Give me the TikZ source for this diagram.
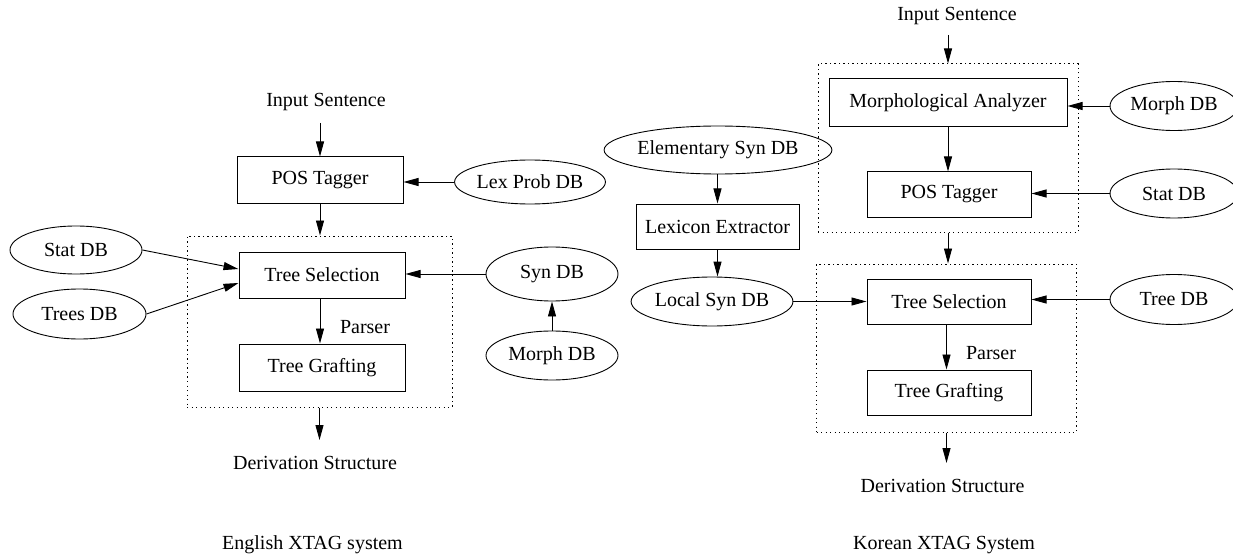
\documentclass[tikz,border=0pt]{standalone}
\usepackage{fontspec}
\setmainfont{Liberation Serif}
\newfontfamily\diagfont{Liberation Serif}
\usetikzlibrary{arrows.meta,shapes.geometric}
\begin{document}
\begin{tikzpicture}[x=1pt,y=-1pt,
  every node/.style={font=\diagfont\fontsize{20}{24}\selectfont},
  proc/.style={draw,line width=1pt,rectangle,inner sep=0pt},
  db/.style={draw,line width=0.9pt,ellipse,inner sep=0pt},
  lbl/.style={inner sep=0pt},
  group/.style={draw,dash pattern=on 1.2pt off 3.3pt,line width=1pt,rectangle,inner sep=0pt},
  arr/.style={-{Triangle[length=15pt,width=8pt]},line width=0.9pt}]
\useasboundingbox (0,0) rectangle (1233,556);

% ---------- English XTAG system ----------
\node[group,minimum width=265pt,minimum height=171pt] (box1) at (319.5,321.5) {};
\node[lbl] (in1) at (326,102) {Input Sentence};
\node[proc,minimum width=166pt,minimum height=46pt] (pos1) at (320,180) {POS Tagger};
\node[proc,minimum width=166pt,minimum height=46pt] (tsel1) at (322,275) {Tree Selection};
\node[proc,minimum width=166pt,minimum height=47pt] (tgraft1) at (322,367.5) {Tree Grafting};
\node[lbl] (parser1) at (365,327) {Parser};
\node[lbl] (der1) at (315,463) {Derivation Structure};
\node[lbl] (title1) at (312.5,545) {English XTAG system};
\node[db,minimum width=132pt,minimum height=48pt] (stat1) at (76,250) {Stat DB};
\node[db,minimum width=133pt,minimum height=50pt] (trees1) at (79.5,314) {Trees DB};
\node[db,minimum width=133pt,minimum height=44pt] (lex1) at (530,182) {Lex Prob DB};
\node[db,minimum width=132pt,minimum height=54pt] (syn1) at (552,274) {Syn DB};
\node[db,minimum width=132pt,minimum height=49pt] (morph1) at (552,355.5) {Morph DB};
\coordinate (a1) at (320,123);
\coordinate (d1) at (319.5,440);

\draw[arr] (a1) -- (a1 |- pos1.north);
\draw[arr] (pos1.south) -- (pos1.south |- box1.north);
\draw[arr] (tsel1.south -| pos1.south) -- (tgraft1.north -| pos1.south);
\draw[arr] (box1.south) -- (d1);
\draw[arr] (lex1.west) -- (lex1.west -| pos1.east);
\draw[arr] (syn1.west) -- (syn1.west -| tsel1.east);
\draw[arr] (morph1.north) -- (syn1.south);
\draw[arr] (stat1.east) -- ([yshift=6pt]tsel1.west);
\draw[arr] (trees1.east) -- ([yshift=-8pt]tsel1.west);

% ---------- Korean XTAG System ----------
\node[group,minimum width=260pt,minimum height=168pt] (box2) at (948,148) {};
\node[group,minimum width=260pt,minimum height=168pt] (box3) at (946.5,348) {};
\node[lbl] (in2) at (957,16) {Input Sentence};
\node[proc,minimum width=238pt,minimum height=48pt] (morphA) at (948,103) {Morphological Analyzer};
\node[proc,minimum width=164pt,minimum height=45pt] (pos2) at (949,194.5) {POS Tagger};
\node[db,minimum width=128pt,minimum height=49pt] (morphDB2) at (1174,106) {Morph DB};
\node[db,minimum width=128pt,minimum height=49pt] (statDB2) at (1174,193.5) {Stat DB};
\node[db,minimum width=128pt,minimum height=50pt] (treeDB2) at (1174,299.5) {Tree DB};
\node[db,minimum width=178pt,minimum height=48pt] (elem) at (718,150) {Elementary Syn DB};
\node[proc,minimum width=163pt,minimum height=45pt] (lexex) at (717.5,226.5) {Lexicon Extractor};
\node[db,minimum width=130pt,minimum height=49pt] (local) at (712,301.5) {Local Syn DB};
\node[proc,minimum width=164pt,minimum height=45pt] (tsel2) at (949,301.5) {Tree Selection};
\node[proc,minimum width=164pt,minimum height=45pt] (tgraft2) at (949,392.5) {Tree Grafting};
\node[lbl] (parser2) at (991,353) {Parser};
\node[lbl] (der2) at (942.5,486) {Derivation Structure};
\node[lbl] (title2) at (944,545) {Korean XTAG System};
\coordinate (a2) at (948,35);
\coordinate (d2) at (946.5,463);

\draw[arr] (a2) -- (a2 |- box2.north);
\draw[arr] (morphA.south) -- (morphA.south |- pos2.north);
\draw[arr] (box2.south) -- (box2.south |- box3.north);
\draw[arr] (morphDB2.west) -- (morphDB2.west -| morphA.east);
\draw[arr] (statDB2.west) -- (statDB2.west -| pos2.east);
\draw[arr] (treeDB2.west) -- (treeDB2.west -| tsel2.east);
\draw[arr] (elem.south -| lexex.north) -- (lexex.north);
\draw[arr] (lexex.south) -- (lexex.south |- local.north);
\draw[arr] (local.east) -- (local.east -| tsel2.west);
\draw[arr] (tsel2.south -| box3.south) -- (tgraft2.north -| box3.south);
\draw[arr] (box3.south) -- (d2);
\end{tikzpicture}
\end{document}
